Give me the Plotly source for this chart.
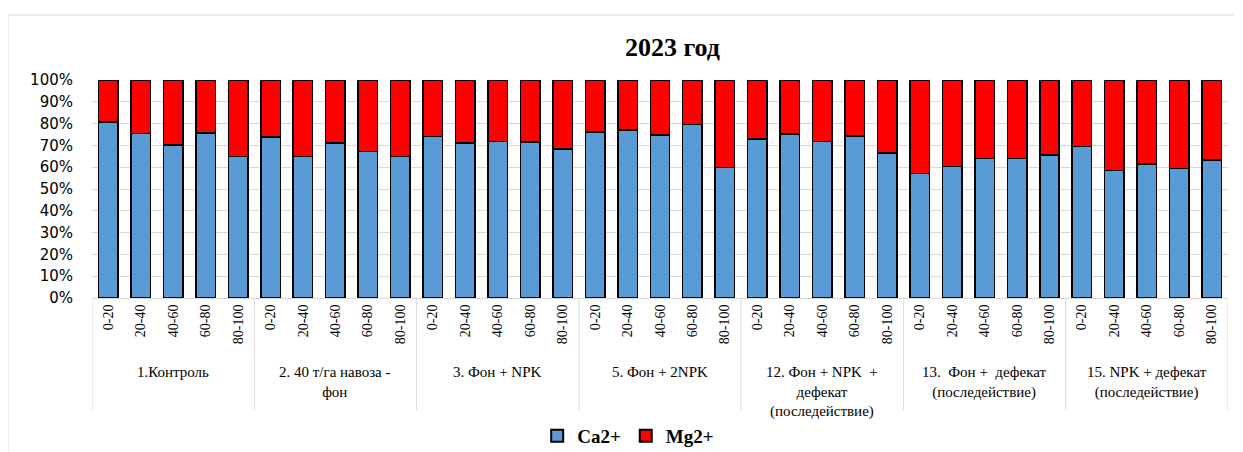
import plotly.graph_objects as go

# depth layers (cm) and treatment groups
depths = ["0-20", "20-40", "40-60", "60-80", "80-100"]
groups = [
    "1.Контроль",
    "2. 40 т/га навоза -<br>фон",
    "3. Фон + NPK",
    "5. Фон + 2NPK",
    "12. Фон + NPK  +<br>дефекат<br>(последействие)",
    "13.  Фон +  дефекат<br>(последействие)",
    "15. NPK + дефекат<br>(последействие)",
]

# share of exchangeable cations, %
ca = [80.8, 75.5, 70.2, 75.8, 64.9,
      73.8, 64.9, 71.2, 67.3, 65.0,
      74.1, 71.2, 71.9, 71.5, 68.3,
      76.2, 77.0, 74.8, 79.6, 59.8,
      73.0, 75.2, 71.9, 74.2, 66.6,
      57.1, 60.4, 64.1, 64.0, 65.6,
      69.5, 58.6, 61.5, 59.4, 63.2]
mg = [19.2, 24.5, 29.8, 24.2, 35.1,
      26.2, 35.1, 28.8, 32.7, 35.0,
      25.9, 28.8, 28.1, 28.5, 31.7,
      23.8, 23.0, 25.2, 20.4, 40.2,
      27.0, 24.8, 28.1, 25.8, 33.4,
      42.9, 39.6, 35.9, 36.0, 34.4,
      30.5, 41.4, 38.5, 40.6, 36.8]

n_dep = len(depths)
xs = list(range(len(groups) * n_dep))
tick_text = depths * len(groups)

serif = "Liberation Serif"

fig = go.Figure()
fig.add_trace(go.Bar(x=xs, y=ca, name="Ca2+", marker=dict(color="#5B9BD5", line=dict(color="black", width=1.5))))
fig.add_trace(go.Bar(x=xs, y=mg, name="Mg2+", marker=dict(color="#FF0000", line=dict(color="black", width=1.5))))

# group labels and separators under the axis
for i, g in enumerate(groups):
    centre = sum(xs[i * n_dep:(i + 1) * n_dep]) / n_dep
    fig.add_annotation(x=centre, y=-0.295, xref="x", yref="paper", text=g, showarrow=False,
                       yanchor="top", font=dict(family=serif, size=15, color="black"))
for k in range(len(groups) + 1):
    fig.add_shape(type="line", xref="x", yref="paper", x0=k * n_dep - 0.5, x1=k * n_dep - 0.5,
                  y0=0, y1=-0.515, line=dict(color="#d9d9d9", width=1))

# outer chart border (right and bottom edges fall outside the picture)
fig.add_shape(type="rect", xref="paper", yref="paper", x0=-0.074, x1=1.1, y0=-0.9, y1=1.298,
              line=dict(color="#d9d9d9", width=1), layer="below")

# page body has an 8px margin, so the figure is sized to fit the window
fig.update_layout(
    width=1235, height=444,
    barmode="stack", bargap=0.4,
    paper_bgcolor="white", plot_bgcolor="white",
    margin=dict(l=84, r=15, t=72, b=154, autoexpand=False),
    title=dict(text="<b>2023 год</b>", x=0.538, xanchor="center", y=0.912, yanchor="middle",
               font=dict(family=serif, size=26, color="black")),
    legend=dict(orientation="h", x=0.472, xanchor="center", y=-0.633, yanchor="middle",
                font=dict(family=serif, size=19, color="black", weight="bold"), traceorder="normal",
                itemwidth=30, itemsizing="constant"),
    xaxis=dict(tickmode="array", tickvals=xs, ticktext=tick_text, tickangle=-90,
               tickfont=dict(family=serif, size=14, color="black"), range=[-0.5, len(xs) - 0.5],
               showgrid=False, showline=True, linecolor="#d9d9d9", ticks="", automargin=False),
    yaxis=dict(range=[0, 100], dtick=10, ticksuffix="%", showgrid=True, gridcolor="#d9d9d9",
               tickfont=dict(family="DejaVu Sans", size=15, color="black"), ticklabelstandoff=18,
               zeroline=False, showline=False, automargin=False),
)

fig.write_html("out.html")
